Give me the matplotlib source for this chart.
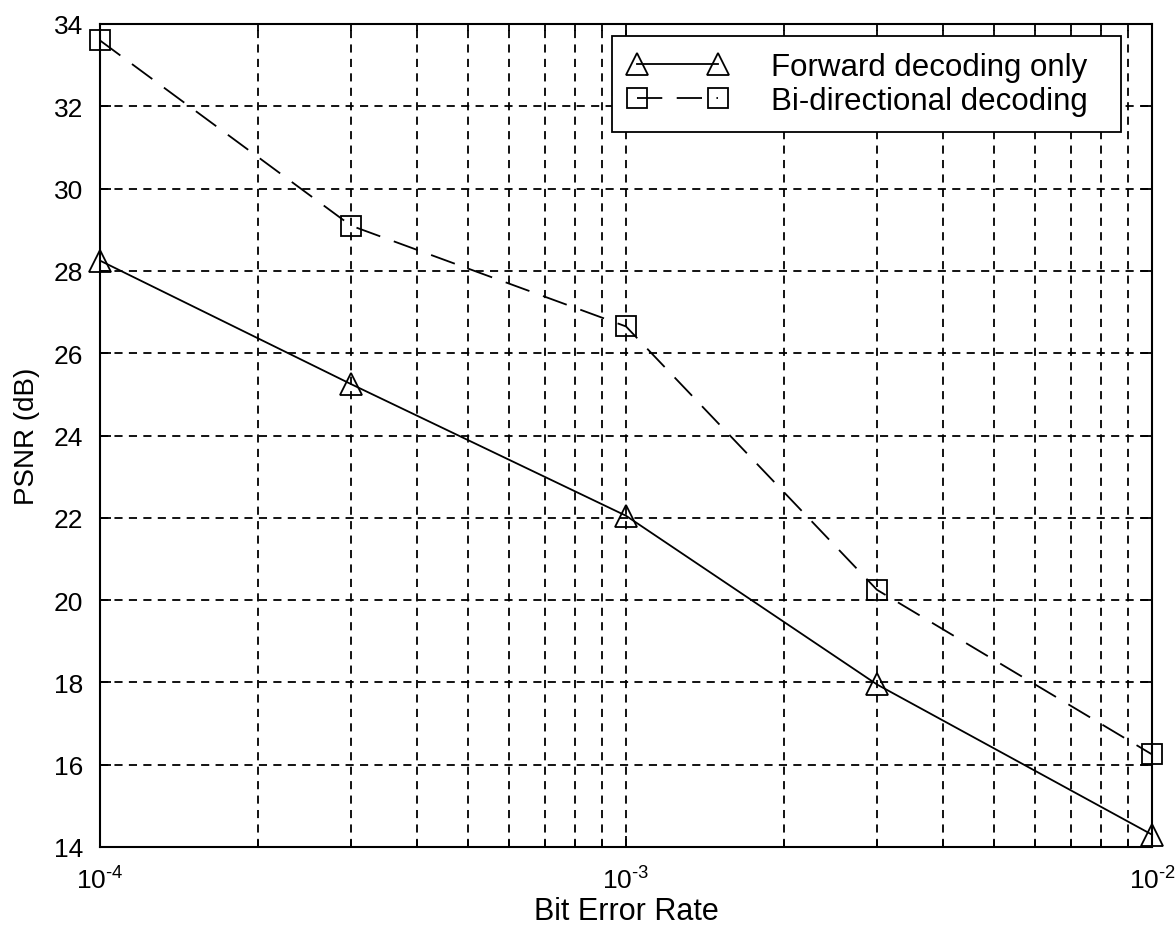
import numpy as np
import matplotlib.pyplot as plt
from matplotlib.ticker import FuncFormatter

plt.rcParams['font.family'] = ['Liberation Sans', 'DejaVu Sans']
plt.rcParams['mathtext.fontset'] = 'custom'
plt.rcParams['mathtext.rm'] = 'Liberation Sans'
plt.rcParams['mathtext.it'] = 'Liberation Sans'

# ====================================================
ber = [1e-4, 3e-4, 1e-3, 3e-3, 1e-2]
psnr_forward = [28.25, 25.25, 22.05, 17.95, 14.3]
psnr_bidir = [33.6, 29.1, 26.65, 20.25, 16.25]
y_ticks = [14, 16, 18, 20, 22, 24, 26, 28, 30, 32, 34]
x_ticks = [1e-4, 1e-3, 1e-2]

# ====================================================
def exp_label(v, pos):
	e = int(round(np.log10(v)))
	return r'$10^{\text{-}%d}$' % abs(e)

# ====================================================
def main():
	fig = plt.figure(figsize=(11.76, 9.37), dpi=100)
	ax = fig.add_axes([100/1176, 89/937, 1052/1176, 823/937])

	ax.plot(ber, psnr_forward, color='black', lw=1.3, marker='^', ms=16,
		mfc='none', mec='black', mew=1.3, clip_on=False, label='Forward decoding only  ')
	ax.plot(ber, psnr_bidir, color='black', lw=1.3, ls=(0, (14, 8)), marker='s', ms=15,
		mfc='none', mec='black', mew=1.3, clip_on=False, label='Bi-directional decoding  ')

	ax.set_xscale('log')
	ax.set_xlim(1e-4, 1e-2)
	ax.set_ylim(14, 34)
	ax.set_yticks(y_ticks)
	ax.set_xticks(x_ticks)
	ax.xaxis.set_major_formatter(FuncFormatter(exp_label))

	ax.grid(True, which='major', color='black', ls=(0, (4.5, 3.5)), lw=1.3)
	ax.grid(True, which='minor', axis='x', color='black', ls=(0, (4.5, 3.5)), lw=1.3)

	ax.tick_params(which='both', direction='in', top=True, right=True, labelsize=19,
		width=1.3, colors='black')
	ax.tick_params(which='major', length=8)
	ax.tick_params(which='minor', length=5, labelbottom=False)
	ax.tick_params(axis='x', pad=14)
	ax.tick_params(axis='y', pad=12)
	for s in ax.spines.values():
		s.set_linewidth(1.5)

	ax.set_xlabel('Bit Error Rate', fontsize=22, labelpad=2)
	ax.set_ylabel('PSNR (dB)', fontsize=20, labelpad=10)

	leg = ax.legend(loc='upper right', bbox_to_anchor=(0.9705, 0.9854), fontsize=22.5,
		numpoints=2, handlelength=3.2, fancybox=False, framealpha=1, edgecolor='black',
		borderpad=0.5, labelspacing=0.15, handletextpad=1.4, borderaxespad=0)
	leg.get_frame().set_linewidth(1.3)

	plt.savefig('out.png', dpi=100)

# ====================================================
if __name__ == "__main__":
	main()
